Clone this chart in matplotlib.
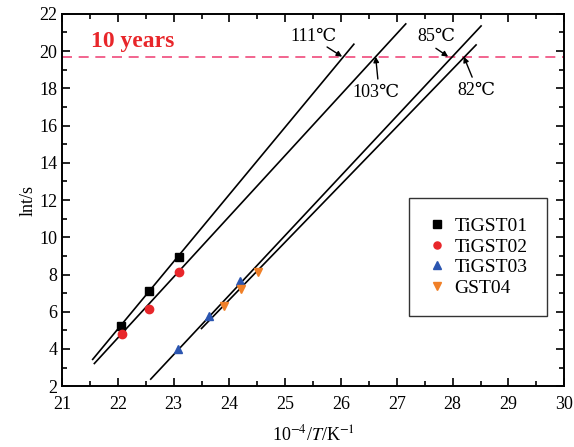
import numpy as np
import matplotlib
matplotlib.use("Agg")
import matplotlib.pyplot as plt

plt.rcParams['font.family'] = ['Liberation Serif', 'DejaVu Serif']
plt.rcParams['mathtext.fontset'] = 'stix'

# measured points: 10^4/T vs ln t
samples = ["TiGST01", "TiGST02", "TiGST03", "GST04"]
x_pts = [
    [22.06, 22.56, 23.10],
    [22.07, 22.56, 23.09],
    [23.08, 23.64, 24.19],
    [23.91, 24.21, 24.51],
]
y_pts = [
    [5.26, 7.12, 8.95],
    [4.78, 6.16, 8.13],
    [3.99, 5.78, 7.65],
    [6.30, 7.23, 8.13],
]

# Arrhenius fit lines (end points)
fit_x = [[21.55, 26.23], [21.58, 27.16], [22.59, 28.51], [23.50, 28.42]]
fit_y = [[3.44, 20.37], [3.22, 21.46], [2.38, 21.35], [5.10, 20.33]]

ten_years = 19.7

# temperature labels: text, text pos, arrow tip, arrow tail
temp_labels = ["111℃", "103℃", "85℃", "82℃"]
label_xy = [(25.51, 20.76), (26.63, 17.8), (27.71, 20.8), (28.42, 17.86)]
arrow_tip = [(26.02, 19.7), (26.62, 19.7), (27.92, 19.7), (28.2, 19.7)]
arrow_tail = [(25.75, 20.22), (26.66, 18.5), (27.7, 20.15), (28.35, 18.6)]

markers = ['s', 'o', '^', 'v']
colors = ['#000000', '#e8262a', '#2b55b0', '#f08028']

fig = plt.figure(figsize=(5.74, 4.47), dpi=100)
ax = fig.add_axes([0.108, 0.136, 0.875, 0.833])

for i in range(len(samples)):
    ax.plot(fit_x[i], fit_y[i], color='black', lw=1.2, zorder=2)
    ax.plot(x_pts[i], y_pts[i], linestyle='none', marker=markers[i], ms=6,
            color=colors[i], label=samples[i], zorder=3)

ax.axhline(ten_years, color='#f04a7c', lw=1.2, ls=(0, (6, 4)), zorder=1)
ax.text(21.52, 20.5, "10 years", color='#e8262a', fontsize=17, fontweight='bold',
        va='center', ha='left')

for lab, pos, tip, tail in zip(temp_labels, label_xy, arrow_tip, arrow_tail):
    ax.text(pos[0], pos[1], lab, fontsize=13, ha='center', va='center')
    ax.annotate("", xy=tip, xytext=tail,
                arrowprops=dict(arrowstyle='-|>', color='black', lw=1.0,
                                mutation_scale=8, shrinkA=0, shrinkB=0))

ax.set_xlim(21, 30)
ax.set_ylim(2, 22)
ax.set_xticks(np.arange(21, 31, 1))
ax.set_xticks(np.arange(21.5, 30, 1), minor=True)
ax.set_yticks(np.arange(2, 23, 2))
ax.set_yticks(np.arange(3, 22, 2), minor=True)
ax.tick_params(which='both', direction='in', top=True, right=True, labelsize=13, width=1.2)
ax.tick_params(which='major', length=6)
ax.tick_params(which='minor', length=3.5)
ax.tick_params(axis='x', pad=7)
for s in ax.spines.values():
    s.set_linewidth(1.4)

ax.set_xlabel("10$^{-4}$/$T$/K$^{-1}$", fontsize=13, labelpad=8)
ax.set_ylabel("lnt/s", fontsize=13, labelpad=2)

leg = ax.legend(loc='upper left', bbox_to_anchor=(0.69, 0.505), fontsize=14,
                frameon=True, fancybox=False, edgecolor='black', handlelength=0.9,
                handletextpad=0.45, borderpad=1.0, labelspacing=0.15, markerscale=0.85,
                borderaxespad=0)
leg.get_frame().set_linewidth(1.0)

fig.savefig("out.png", dpi=100)
